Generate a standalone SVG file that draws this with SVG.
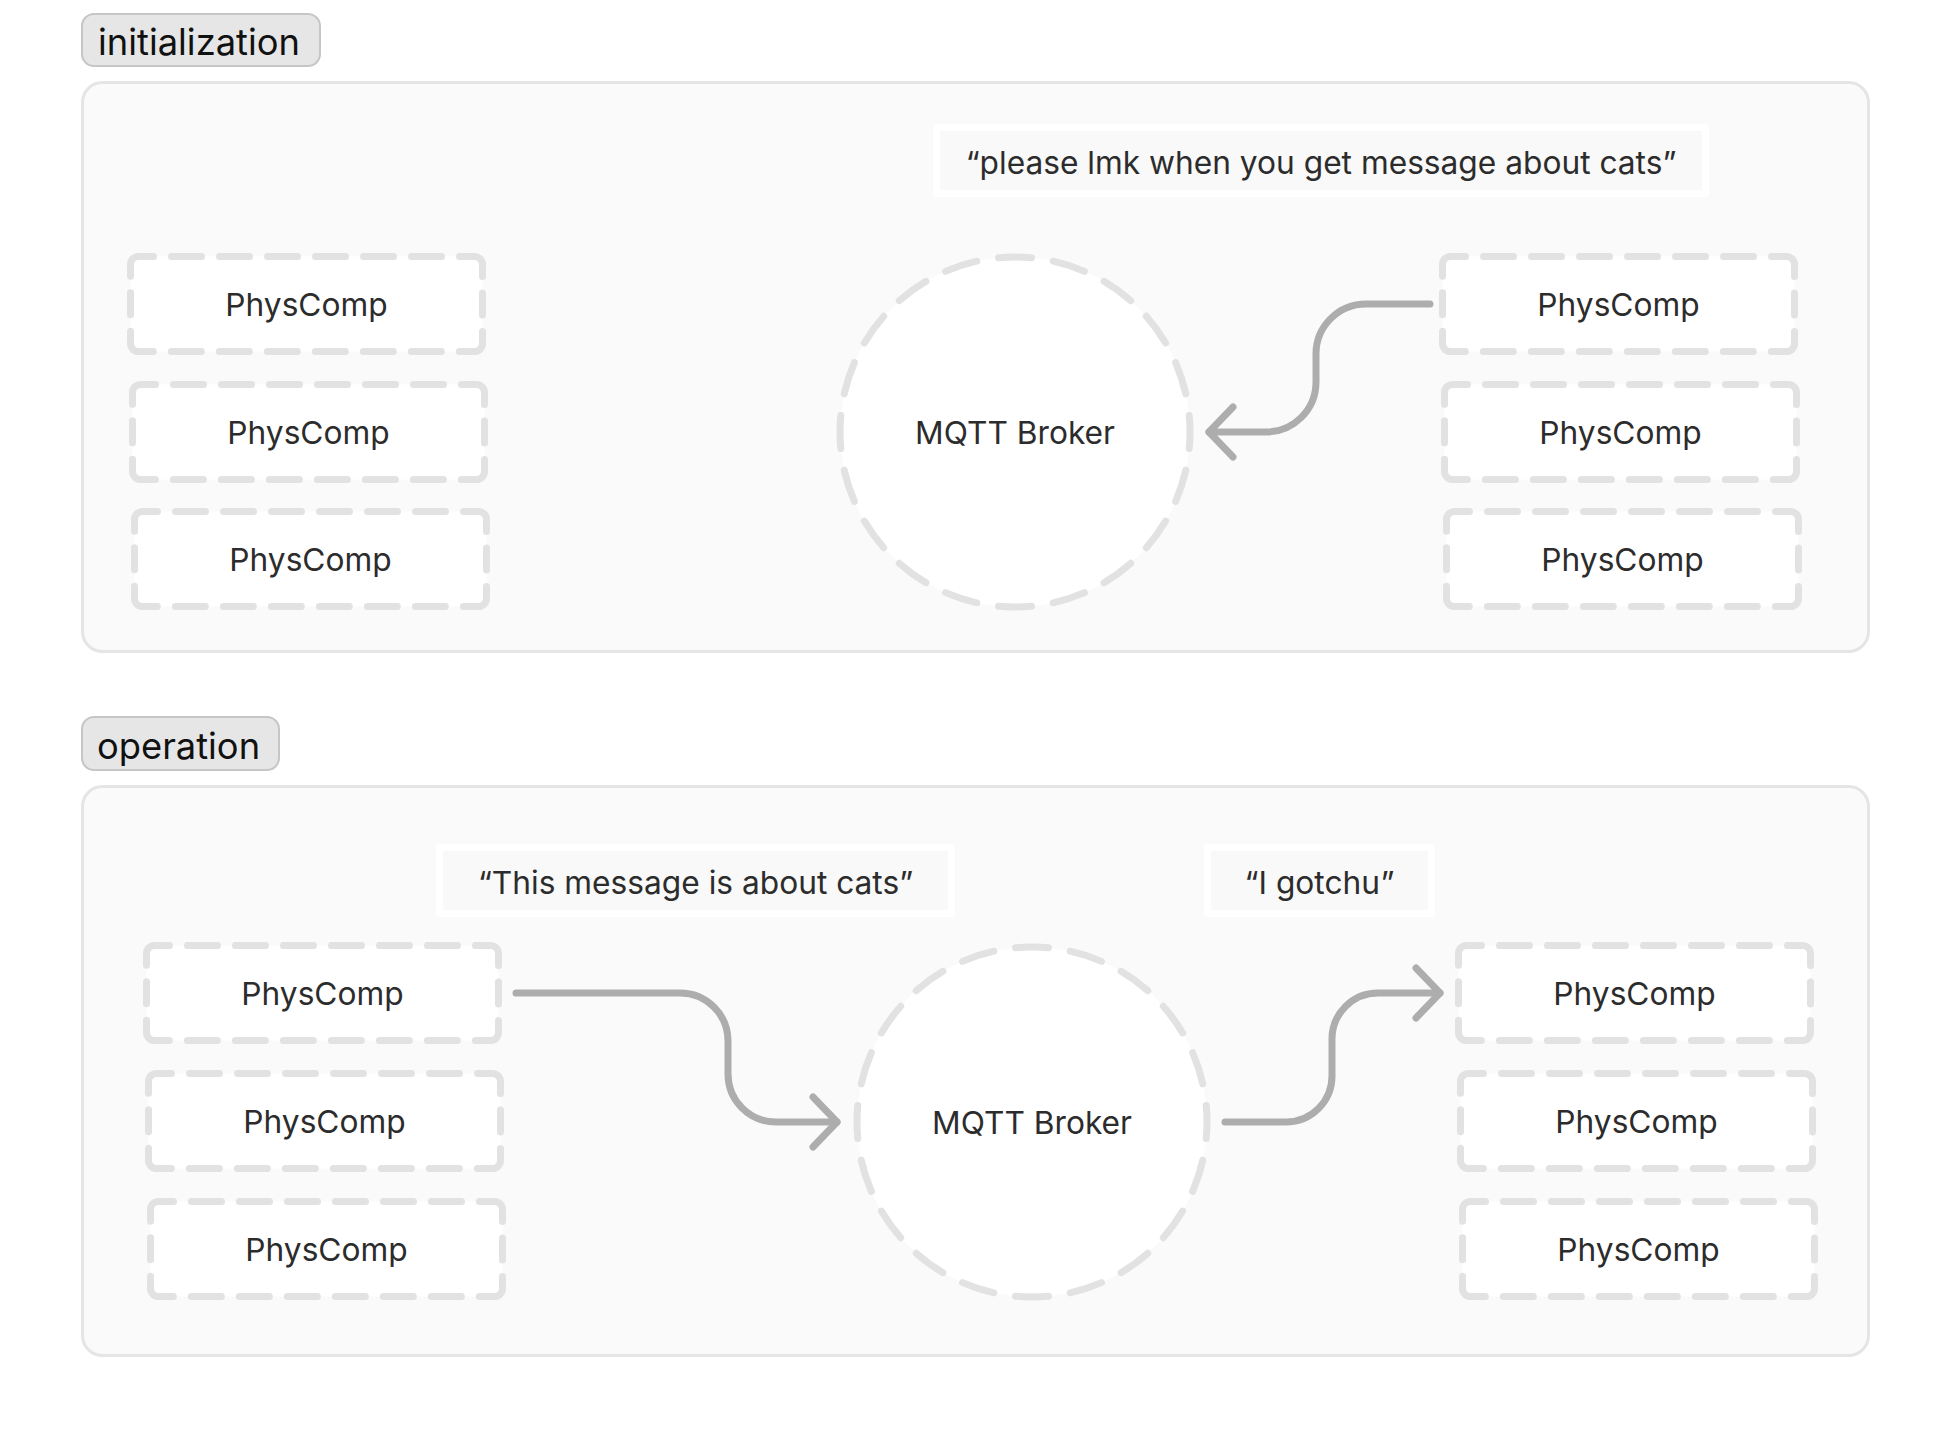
<svg xmlns="http://www.w3.org/2000/svg" width="1952" height="1440" viewBox="0 0 1952 1440">
<style>
.bg{fill:#ffffff}
.panel{fill:#fafafa;stroke:#e5e5e5;stroke-width:3}
.tag{fill:#e6e6e6;stroke:#c6c6c6;stroke-width:2}
.tagtext{font-family:Inter,"Liberation Sans",sans-serif;font-size:36.3px;fill:#111111}
.box{fill:#ffffff;stroke:#e2e2e2;stroke-width:7;stroke-linecap:round;stroke-linejoin:round;stroke-dasharray:15 18 30 18 30 18 30 18 30 18 30 18 30 18 39.57 16.5 22 16.5 39.57 18 30 18 30 18 30 18 30 18 30 18 30 18 39.57 16.5 22 16.5 24.57 3000}
.broker{fill:#ffffff;stroke:#e2e2e2;stroke-width:7;stroke-linecap:round;stroke-dasharray:33 22;stroke-dashoffset:16.5}
.quote{fill:#f9f9f9;stroke:#ffffff;stroke-width:7;stroke-linejoin:round}
.label{font-family:Inter,"Liberation Sans",sans-serif;font-size:31.7px;fill:#2c2c2c;text-anchor:middle}
.edge{fill:none;stroke:#adadad;stroke-width:7;stroke-linecap:round;stroke-linejoin:round}
</style>
<defs>
<path id="boxshape" d="M8,0 H344 A8,8 0 0 1 352,8 V87 A8,8 0 0 1 344,95 H8 A8,8 0 0 1 0,87 V8 A8,8 0 0 1 8,0 Z"/>
<marker id="chev" markerUnits="userSpaceOnUse" markerWidth="80" markerHeight="80" viewBox="-40 -40 80 80" refX="0" refY="0" orient="auto" overflow="visible">
<path d="M-24,-25 L0,0 L-24,25" fill="none" stroke="#adadad" stroke-width="7" stroke-linecap="round" stroke-linejoin="round"/>
</marker>
</defs>
<rect class="bg" x="0" y="0" width="1952" height="1440"/>

<g id="section-initialization">
<rect class="panel" x="82.5" y="82.5" width="1786" height="569" rx="20"/>
<rect class="tag" x="82" y="14" width="238" height="52" rx="12"/>
<text class="tagtext" x="98" y="55">initialization</text>
</g>

<g id="section-operation">
<rect class="panel" x="82.5" y="786.5" width="1786" height="569" rx="20"/>
<rect class="tag" x="82" y="717" width="197" height="53" rx="12"/>
<text class="tagtext" x="97" y="759">operation</text>
</g>

<g id="init-quote">
<rect class="quote" x="936.5" y="127.5" width="769" height="66"/>
<text class="label" x="1321" y="174">“please lmk when you get message about cats”</text>
</g>

<g id="init-left-1" transform="translate(130.5,256.5)"><use href="#boxshape" class="box"/><text class="label" x="176" y="59.5">PhysComp</text></g>
<g id="init-left-2" transform="translate(132.5,384.5)"><use href="#boxshape" class="box"/><text class="label" x="176" y="59.5">PhysComp</text></g>
<g id="init-left-3" transform="translate(134.5,511.5)"><use href="#boxshape" class="box"/><text class="label" x="176" y="59.5">PhysComp</text></g>

<g id="init-broker">
<circle class="broker" cx="1015" cy="432" r="175" pathLength="1100"/>
<text class="label" x="1015" y="444">MQTT Broker</text>
</g>

<g id="init-right-1" transform="translate(1442.5,256.5)"><use href="#boxshape" class="box"/><text class="label" x="176" y="59.5">PhysComp</text></g>
<g id="init-right-2" transform="translate(1444.5,384.5)"><use href="#boxshape" class="box"/><text class="label" x="176" y="59.5">PhysComp</text></g>
<g id="init-right-3" transform="translate(1446.5,511.5)"><use href="#boxshape" class="box"/><text class="label" x="176" y="59.5">PhysComp</text></g>

<g id="op-quote-1">
<rect class="quote" x="439.5" y="847.5" width="512" height="66"/>
<text class="label" x="695.5" y="894">“This message is about cats”</text>
</g>
<g id="op-quote-2">
<rect class="quote" x="1207.5" y="847.5" width="224" height="66"/>
<text class="label" x="1319.5" y="894">“I gotchu”</text>
</g>

<g id="op-left-1" transform="translate(146.5,945.5)"><use href="#boxshape" class="box"/><text class="label" x="176" y="59.5">PhysComp</text></g>
<g id="op-left-2" transform="translate(148.5,1073.5)"><use href="#boxshape" class="box"/><text class="label" x="176" y="59.5">PhysComp</text></g>
<g id="op-left-3" transform="translate(150.5,1201.5)"><use href="#boxshape" class="box"/><text class="label" x="176" y="59.5">PhysComp</text></g>

<g id="op-broker">
<circle class="broker" cx="1032" cy="1122" r="175" pathLength="1100"/>
<text class="label" x="1032" y="1134">MQTT Broker</text>
</g>

<g id="op-right-1" transform="translate(1458.5,945.5)"><use href="#boxshape" class="box"/><text class="label" x="176" y="59.5">PhysComp</text></g>
<g id="op-right-2" transform="translate(1460.5,1073.5)"><use href="#boxshape" class="box"/><text class="label" x="176" y="59.5">PhysComp</text></g>
<g id="op-right-3" transform="translate(1462.5,1201.5)"><use href="#boxshape" class="box"/><text class="label" x="176" y="59.5">PhysComp</text></g>

<g id="connectors">
<path class="edge" d="M1430,304 H1366 A50,50 0 0 0 1316,354 V382 A50,50 0 0 1 1266,432 H1209" marker-end="url(#chev)"/>
<path class="edge" d="M516,993 H680 A48,48 0 0 1 728,1041 V1074 A48,48 0 0 0 776,1122 H837" marker-end="url(#chev)"/>
<path class="edge" d="M1225,1122 H1286 A46,46 0 0 0 1332,1076 V1039 A46,46 0 0 1 1378,993 H1440" marker-end="url(#chev)"/>
</g>
</svg>
